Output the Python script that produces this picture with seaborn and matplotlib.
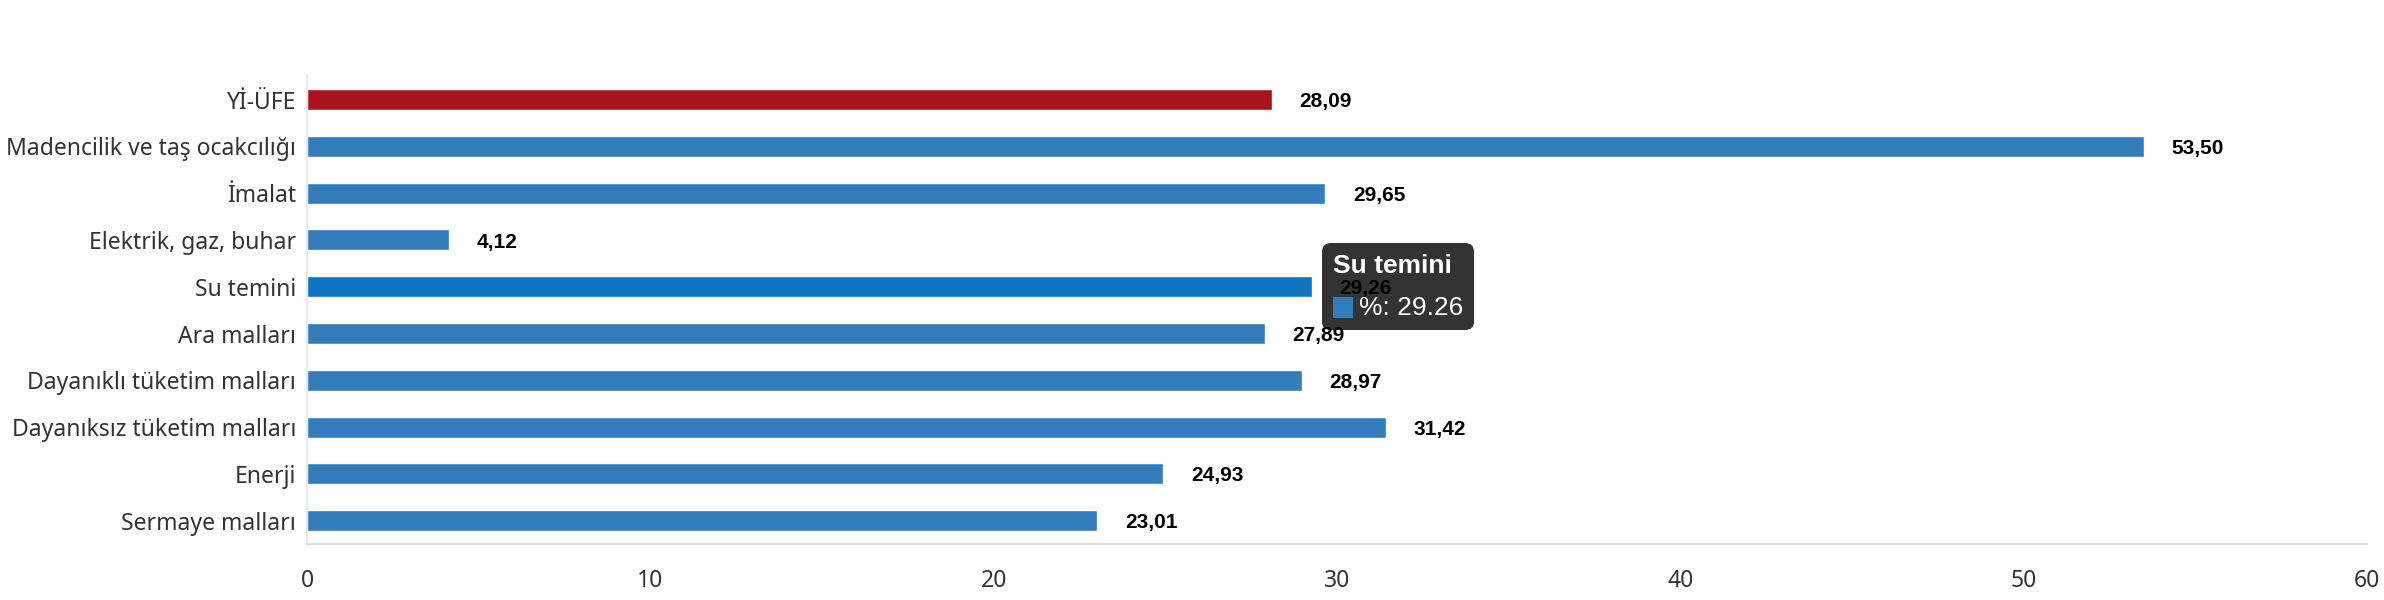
import matplotlib
matplotlib.use('Agg')
import matplotlib.pyplot as plt
import seaborn as sns
import pandas as pd
from matplotlib.offsetbox import TextArea, DrawingArea, HPacker, VPacker, AnnotationBbox
from matplotlib.patches import Rectangle

categories = ['Yİ-ÜFE', 'Madencilik ve taş ocakcılığı', 'İmalat', 'Elektrik, gaz, buhar',
              'Su temini', 'Ara malları', 'Dayanıklı tüketim malları',
              'Dayanıksız tüketim malları', 'Enerji', 'Sermaye malları']
values = [28.09, 53.50, 29.65, 4.12, 29.26, 27.89, 28.97, 31.42, 24.93, 23.01]
value_labels = ['28,09', '53,50', '29,65', '4,12', '29,26', '27,89', '28,97', '31,42', '24,93', '23,01']
xticks = [0, 10, 20, 30, 40, 50, 60]
hover_cat = 'Su temini'

red = '#a8141c'
blue = '#337dbb'
hover_blue = '#0f75c0'
colors = {c: blue for c in categories}
colors[categories[0]] = red
colors[hover_cat] = hover_blue

df = pd.DataFrame({'cat': categories, 'val': values})

sns.set_style('white')
plt.rcParams['font.family'] = ['Noto Sans', 'DejaVu Sans']

fig = plt.figure(figsize=(23.84, 6), dpi=100)
ax = fig.add_axes([0.1288, 0.0933, 0.8642, 0.7797])

sns.barplot(data=df, x='val', y='cat', hue='cat', palette=colors, legend=False,
            width=0.45, orient='h', ax=ax, saturation=1)

ax.set_xlim(0, 60)
ax.set_ylim(len(categories) - 0.5, -0.5)
ax.set_xticks(xticks)
ax.set_xticklabels([str(t) for t in xticks])
ax.set_xlabel('')
ax.set_ylabel('')
ax.tick_params(axis='both', length=0, labelsize=16.5, colors='#333333')
ax.tick_params(axis='x', pad=18)
ax.tick_params(axis='y', pad=8)

for s in ['top', 'right']:
    ax.spines[s].set_visible(False)
ax.spines['bottom'].set_color('#e0e0e0')
ax.spines['bottom'].set_linewidth(1.5)
ax.spines['left'].set_color('#e6e9ef')
ax.spines['left'].set_linewidth(1.5)

for i, (v, lab) in enumerate(zip(values, value_labels)):
    ax.annotate(lab, xy=(v, i), xytext=(20, -1.5), textcoords='offset points',
                ha='left', va='center', fontsize=15, fontweight='bold',
                family=['Liberation Sans', 'DejaVu Sans'], color='black', zorder=12)

# hover tooltip on "Su temini"
hi = categories.index(hover_cat)
title = TextArea(hover_cat, textprops=dict(color='white', fontsize=19, fontweight='bold',
                                           family=['Liberation Sans', 'DejaVu Sans']))
sq = DrawingArea(15, 15, 0, 0)
sq.add_artist(Rectangle((0, 0), 15, 15, fc=blue, ec='none'))
val_txt = TextArea('%: ' + f'{values[hi]:.2f}',
                   textprops=dict(color='white', fontsize=19,
                                  family=['Liberation Sans', 'DejaVu Sans']))
row = HPacker(children=[sq, val_txt], align='center', pad=0, sep=4)
box = VPacker(children=[title, row], align='left', pad=0, sep=13)
ab = AnnotationBbox(box, xy=(values[hi], hi), xycoords='data',
                    xybox=(15, 0), boxcoords='offset points', box_alignment=(0, 0.5),
                    bboxprops=dict(boxstyle='round,pad=0.75,rounding_size=0.6',
                                   fc='#333333', ec='none'),
                    frameon=True, pad=0.45)
ab.set_zorder(10)
ax.add_artist(ab)

fig.savefig('out.png', dpi=100)
